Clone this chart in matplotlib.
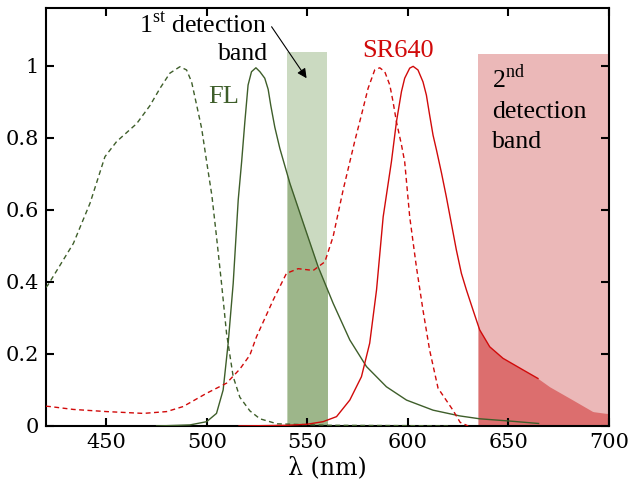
import matplotlib
matplotlib.use("Agg")
import matplotlib.pyplot as plt
import numpy as np

plt.rcParams['font.family'] = ['Liberation Serif', 'DejaVu Serif']
plt.rcParams['mathtext.fontset'] = 'custom'
plt.rcParams['mathtext.rm'] = 'Liberation Serif'

# FL absorption (dashed green)
fl_abs_x = [420, 421, 433.6, 441.9, 449.3, 455.1, 465.1, 471.7, 476.7, 481.6, 486.6, 489.9,
            492.4, 494.9, 497.4, 499.9, 502.5, 504.8, 507.3, 509.8, 513.1, 516.4, 521.4,
            526.4, 535, 560, 600, 620]
fl_abs_y = [0.385, 0.392, 0.507, 0.619, 0.748, 0.79, 0.84, 0.89, 0.938, 0.98, 0.998, 0.989,
            0.956, 0.892, 0.827, 0.734, 0.64, 0.526, 0.396, 0.257, 0.137, 0.08, 0.042,
            0.02, 0.006, 0.002, 0.001, 0.0]

# FL emission (solid green)
fl_em_x = [475, 491.6, 499.9, 504.8, 508.1, 510.6, 513.1, 515.6, 517.3, 518.9, 520.5, 522.2,
           524.4, 526.4, 528.8, 530.5, 531.8, 533.8, 536.3, 541.3, 548, 555.3, 562.8, 571.1,
           579.4, 589.3, 599.3, 612.5, 625.8, 635.7, 650, 665]
fl_em_y = [0.0, 0.003, 0.012, 0.035, 0.1, 0.23, 0.396, 0.628, 0.734, 0.845, 0.947, 0.984,
           0.995, 0.984, 0.966, 0.935, 0.89, 0.83, 0.771, 0.674, 0.563, 0.443, 0.341, 0.239,
           0.165, 0.109, 0.072, 0.044, 0.028, 0.02, 0.014, 0.007]

# SR640 absorption (dashed red)
sr_abs_x = [420, 422, 433.6, 450.2, 468.4, 480, 488.2, 499.9, 509.8, 516.4, 521.4, 524.7,
            533, 539.6, 545.4, 552.9, 558.7, 562.8, 567.8, 573.6, 576.9, 580.2, 583.5, 586,
            588.5, 591, 592.6, 594.3, 596.8, 598.4, 600.9, 604.2, 607.5, 610.8, 615,
            622.4, 626, 630]
sr_abs_y = [0.055, 0.054, 0.046, 0.04, 0.035, 0.04, 0.054, 0.091, 0.119, 0.158, 0.197, 0.248,
            0.35, 0.424, 0.437, 0.432, 0.456, 0.526, 0.656, 0.792, 0.864, 0.938, 0.989, 0.995,
            0.984, 0.947, 0.901, 0.845, 0.781, 0.734, 0.581, 0.443, 0.322, 0.211, 0.105,
            0.044, 0.01, 0.0]

# SR640 emission (solid red)
sr_em_x = [516, 540, 550, 557.8, 564.5, 571.1, 576.9, 581, 584.4, 587.7, 591.8, 594.3, 596.8,
           598.4, 600.9, 602.6, 605, 607.5, 609.2, 610.8, 612.5, 614.2, 616.7, 619.1, 621.6,
           624.1, 626.6, 629.1, 632.4, 635.7, 640.7, 647.3, 657.2, 664.7]
sr_em_y = [0.0, 0.002, 0.005, 0.012, 0.026, 0.072, 0.137, 0.23, 0.378, 0.581, 0.734, 0.845,
           0.929, 0.966, 0.994, 0.999, 0.989, 0.956, 0.919, 0.864, 0.808, 0.767, 0.703, 0.637,
           0.563, 0.489, 0.424, 0.378, 0.322, 0.267, 0.22, 0.188, 0.156, 0.132]
# tail used only for the filled part of the 2nd band
sr_tail_x = [670.5, 682.1, 692, 698.7, 700]
sr_tail_y = [0.109, 0.072, 0.04, 0.035, 0.035]

band1 = (540, 560)
band2 = (635, 700)
band_top1 = 1.04
band_top2 = 1.033

green = '#3e5e2a'
red = '#d10a0a'

fig = plt.figure(figsize=(6.33, 4.95), dpi=100)
ax = fig.add_axes([0.0727, 0.1394, 0.962 - 0.0727, 0.9838 - 0.1394])

# detection bands
ax.fill_between(band1, 0, band_top1, color='#cbdac1', lw=0, zorder=0)
ax.fill_between(band2, 0, band_top2, color='#ebb8b8', lw=0, zorder=0)

gx = np.linspace(band1[0], band1[1], 50)
ax.fill_between(gx, 0, np.interp(gx, fl_em_x, fl_em_y), color='#9db68a', lw=0, zorder=1)

rx_all = sr_em_x + sr_tail_x
ry_all = sr_em_y + sr_tail_y
rx = np.linspace(band2[0], band2[1], 120)
ax.fill_between(rx, 0, np.interp(rx, rx_all, ry_all), color='#dc6e6e', lw=0, zorder=1)

ax.plot(fl_abs_x, fl_abs_y, color=green, lw=1.0, ls=(0, (3.5, 2.5)), zorder=3)
ax.plot(fl_em_x, fl_em_y, color=green, lw=1.0, zorder=3)
ax.plot(sr_abs_x, sr_abs_y, color=red, lw=1.0, ls=(0, (3.5, 2.5)), zorder=3)
ax.plot(sr_em_x, sr_em_y, color=red, lw=1.0, zorder=3)

ax.set_xlim(420, 700)
ax.set_ylim(0, 1.161)
ax.set_xticks([450, 500, 550, 600, 650, 700])
ax.set_yticks([0, 0.2, 0.4, 0.6, 0.8, 1])
ax.set_yticklabels(['0', '0.2', '0.4', '0.6', '0.8', '1'])
ax.tick_params(direction='in', length=6, width=1.5, top=True, right=True, pad=5)
for lab in ax.get_xticklabels() + ax.get_yticklabels():
    lab.set_fontfamily('DejaVu Serif')
    lab.set_fontsize(15)
for s in ax.spines.values():
    s.set_linewidth(1.5)
ax.set_xlabel('λ (nm)', fontsize=17, family='DejaVu Serif', labelpad=3)

ax.text(508.2, 0.897, 'FL', color=green, fontsize=19, ha='center', va='baseline')
ax.text(595, 1.025, 'SR640', color=red, fontsize=19, ha='center', va='baseline')
ax.text(530.3, 1.094, '1$^{\\mathrm{st}}$ detection', fontsize=18.5, ha='right', va='baseline')
ax.text(530.3, 1.017, 'band', fontsize=18.5, ha='right', va='baseline')
ax.text(641.7, 0.939, '2$^{\\mathrm{nd}}$', fontsize=18.5, ha='left', va='baseline')
ax.text(641.7, 0.856, 'detection', fontsize=18.5, ha='left', va='baseline')
ax.text(641.7, 0.772, 'band', fontsize=18.5, ha='left', va='baseline')
ax.annotate('', xy=(549.6, 0.966), xytext=(532.2, 1.109),
            arrowprops=dict(arrowstyle='-|>', color='black', lw=0.8, mutation_scale=14,
                            shrinkA=0, shrinkB=0))

fig.savefig('out.png', dpi=100)
